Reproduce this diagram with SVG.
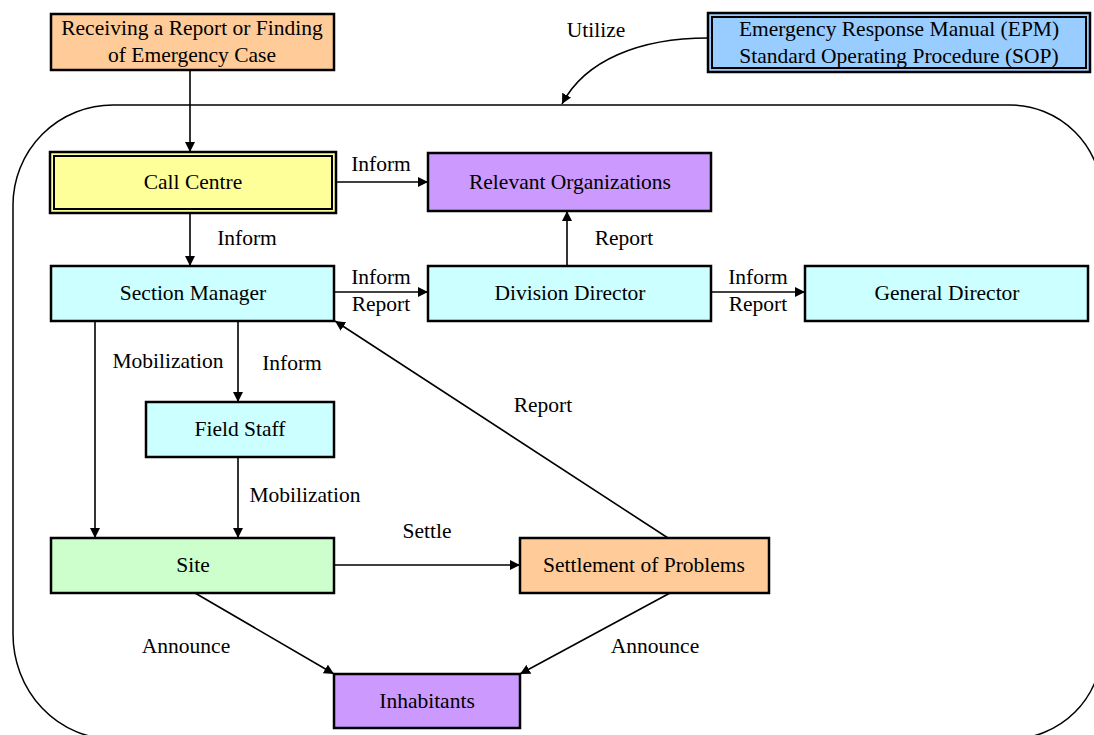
<svg xmlns="http://www.w3.org/2000/svg" width="1094" height="735" viewBox="0 0 1094 735">
  <defs>
    <marker id="arrow" viewBox="0 0 10 10" refX="10" refY="5" markerWidth="10" markerHeight="10" markerUnits="userSpaceOnUse" orient="auto">
      <path d="M0,0 L10,5 L0,10 z" fill="#000"/>
    </marker>
    <style>
      text { font-family: "Liberation Serif", "Times New Roman", serif; font-size: 21.5px; fill: #000; text-anchor: middle; }
      .box { stroke: #000; stroke-width: 2.5; }
      .inner { stroke: #000; stroke-width: 2; }
      .peach { fill: #ffcc99; }
      .yellow { fill: #ffff99; }
      .cyan { fill: #ccffff; }
      .green { fill: #ccffcc; }
      .purple { fill: #cc99ff; }
      .blue { fill: #99ccff; }
      .link { fill: none; stroke: #000; stroke-width: 1.6; marker-end: url(#arrow); }
      .frame { fill: none; stroke: #000; stroke-width: 1.5; }
    </style>
  </defs>

  <rect width="1094" height="735" fill="#fff"/>

  <!-- rounded boundary of the response organisation -->
  <path class="frame" d="M113,105 H1010 A92,92 0 0 1 1102,197 V647 A92,92 0 0 1 1010,739 H113 A100,105 0 0 1 13,634 V205 A100,100 0 0 1 113,105 Z"/>

  <!-- connectors -->
  <g id="connectors">
    <line class="link" x1="190" y1="70" x2="190" y2="152"/>
    <line class="link" x1="336" y1="182" x2="428" y2="182"/>
    <line class="link" x1="190" y1="213" x2="190" y2="266"/>
    <line class="link" x1="567" y1="266" x2="567" y2="211"/>
    <line class="link" x1="334" y1="292" x2="428" y2="292"/>
    <line class="link" x1="711" y1="292" x2="805" y2="292"/>
    <line class="link" x1="95" y1="321" x2="95" y2="538"/>
    <line class="link" x1="238" y1="321" x2="238" y2="402"/>
    <line class="link" x1="238" y1="457" x2="238" y2="538"/>
    <line class="link" x1="334" y1="565" x2="520" y2="565"/>
    <line class="link" x1="668" y1="538" x2="335" y2="321"/>
    <line class="link" x1="195" y1="593" x2="334" y2="674"/>
    <line class="link" x1="670" y1="593" x2="520" y2="674"/>
    <path class="link" d="M708,38 C640,38 585,60 562,104"/>

    <text x="596" y="37">Utilize</text>
    <text x="381" y="171">Inform</text>
    <text x="247" y="245">Inform</text>
    <text x="624" y="245">Report</text>
    <text x="381" y="284">Inform</text>
    <text x="381" y="311">Report</text>
    <text x="758" y="284">Inform</text>
    <text x="758" y="311">Report</text>
    <text x="168" y="368">Mobilization</text>
    <text x="292" y="370">Inform</text>
    <text x="543" y="412">Report</text>
    <text x="305" y="502">Mobilization</text>
    <text x="427" y="538">Settle</text>
    <text x="186" y="653">Announce</text>
    <text x="655" y="653">Announce</text>
  </g>

  <!-- nodes -->
  <g id="receiving">
    <rect class="box peach" x="51" y="14" width="283" height="56"/>
    <text x="192" y="35">Receiving a Report or Finding</text>
    <text x="192" y="62">of Emergency Case</text>
  </g>

  <g id="manual">
    <rect class="box blue" x="708" y="13" width="382" height="59"/>
    <rect class="inner blue" x="712" y="17" width="374" height="51"/>
    <text x="899" y="36">Emergency Response Manual (EPM)</text>
    <text x="899" y="63">Standard Operating Procedure (SOP)</text>
  </g>

  <g id="call-centre">
    <rect class="box yellow" x="50" y="152" width="286" height="61"/>
    <rect class="inner yellow" x="54" y="156" width="278" height="53"/>
    <text x="193" y="189">Call Centre</text>
  </g>

  <g id="relevant-organizations">
    <rect class="box purple" x="428" y="153" width="283" height="58"/>
    <text x="570" y="189">Relevant Organizations</text>
  </g>

  <g id="section-manager">
    <rect class="box cyan" x="51" y="266" width="283" height="55"/>
    <text x="193" y="300">Section Manager</text>
  </g>

  <g id="division-director">
    <rect class="box cyan" x="428" y="266" width="283" height="55"/>
    <text x="570" y="300">Division Director</text>
  </g>

  <g id="general-director">
    <rect class="box cyan" x="805" y="266" width="283" height="55"/>
    <text x="947" y="300">General Director</text>
  </g>

  <g id="field-staff">
    <rect class="box cyan" x="146" y="402" width="188" height="55"/>
    <text x="240" y="436">Field Staff</text>
  </g>

  <g id="site">
    <rect class="box green" x="51" y="538" width="283" height="55"/>
    <text x="193" y="572">Site</text>
  </g>

  <g id="settlement">
    <rect class="box peach" x="520" y="538" width="249" height="55"/>
    <text x="644" y="572">Settlement of Problems</text>
  </g>

  <g id="inhabitants">
    <rect class="box purple" x="334" y="674" width="186" height="54"/>
    <text x="427" y="708">Inhabitants</text>
  </g>
</svg>
